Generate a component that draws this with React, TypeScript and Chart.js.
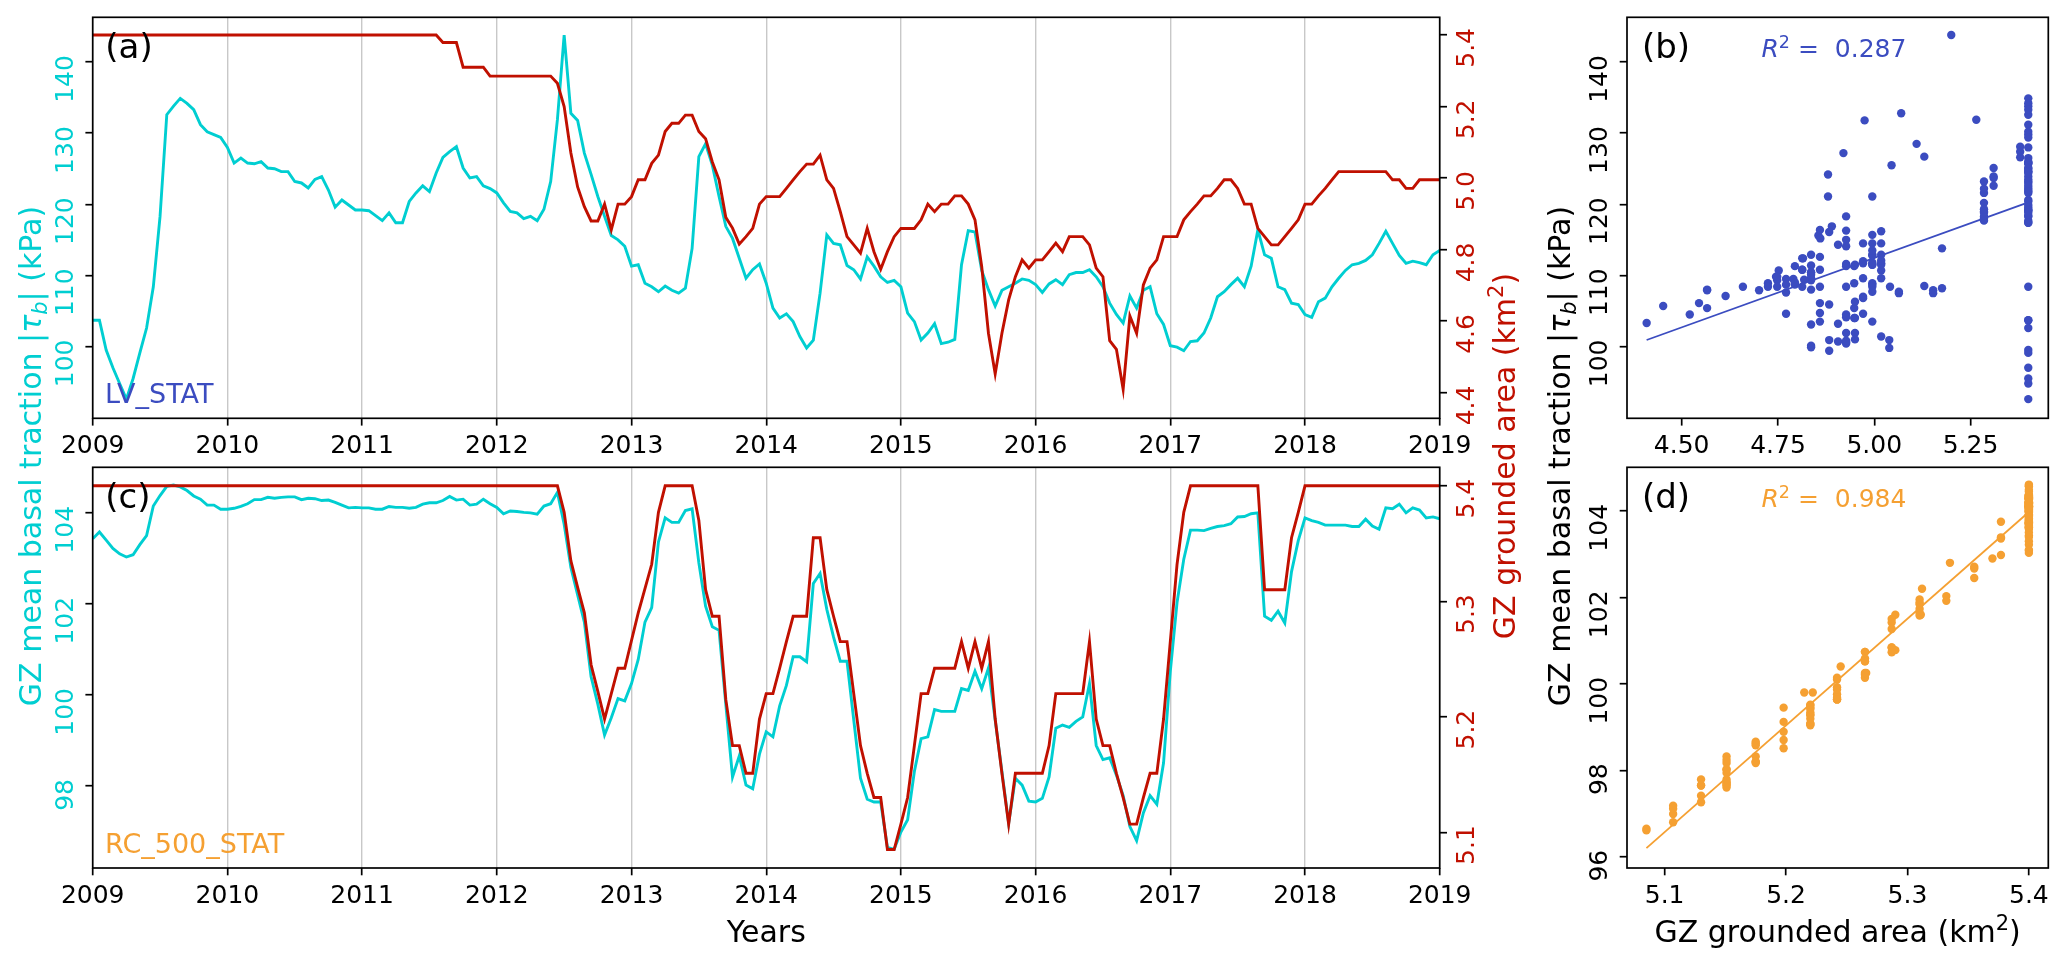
import React, { useEffect, useRef } from 'react';
import { Chart, registerables } from 'chart.js';

Chart.register(...registerables);

const FIG_W = 2067;
const FIG_H = 970;
const FONT = "'DejaVu Sans', 'Liberation Sans', sans-serif";

const CYAN = '#00CED1';
const RED = '#C01000';
const BLUE = '#3B4CC0';
const ORANGE = '#F5A032';
const GRID = '#c8c8c8';

// ---------- data ----------
// time axis: 20 samples per year, 2009.00 .. 2019.00
const timeYears: number[] = Array.from({ length: 201 }, (_, i) => +(2009 + i * 0.05).toFixed(2));

// LV_STAT : GZ mean basal traction (kPa)
const tauLV: number[] = [
  103.7, 103.7, 99.5, 97.0, 94.8, 92.6, 95.5, 99.1, 102.6, 108.4, 118.3, 132.6, 133.8, 134.9, 134.2, 133.3, 131.2, 130.2, 129.8, 129.4,
  128.0, 125.8, 126.5, 125.8, 125.7, 126.0, 125.1, 125.0, 124.6, 124.6, 123.2, 123.0, 122.3, 123.5, 123.9, 122.0, 119.6, 120.6, 119.9, 119.2,
  119.2, 119.1, 118.4, 117.7, 118.8, 117.4, 117.4, 120.4, 121.6, 122.6, 121.8, 124.4, 126.6, 127.4, 128.1, 125.1, 123.7, 123.9, 122.6, 122.2,
  121.6, 120.2, 119.0, 118.8, 118.0, 118.3, 117.7, 119.3, 123.2, 131.9, 143.8, 132.8, 131.8, 127.2, 124.2, 121.1, 118.3, 115.6, 115.0, 114.1,
  111.3, 111.5, 108.9, 108.4, 107.7, 108.5, 107.9, 107.5, 108.2, 113.8, 126.7, 128.5, 125.5, 121.1, 116.9, 115.2, 112.4, 109.6, 110.8, 111.6,
  108.9, 105.4, 104.0, 104.6, 103.5, 101.4, 99.8, 100.9, 107.5, 115.7, 114.5, 114.3, 111.4, 110.8, 109.5, 112.6, 111.3, 109.8, 109.0, 109.3,
  108.4, 104.7, 103.5, 100.9, 101.9, 103.2, 100.4, 100.6, 101.0, 111.5, 116.3, 116.1, 110.7, 108.0, 105.7, 107.9, 108.4, 108.9, 109.5, 109.3,
  108.7, 107.6, 108.8, 109.4, 108.7, 110.1, 110.4, 110.4, 110.8, 109.8, 108.4, 106.1, 104.5, 103.3, 107.1, 105.4, 107.9, 108.4, 104.6, 103.1,
  100.1, 99.9, 99.4, 100.7, 100.8, 101.9, 104.0, 107.0, 107.7, 108.7, 109.6, 108.4, 111.3, 116.4, 112.9, 112.4, 108.4, 108.0, 106.1, 105.9,
  104.5, 104.1, 106.3, 106.8, 108.4, 109.6, 110.7, 111.5, 111.7, 112.1, 112.9, 114.5, 116.2, 114.5, 112.8, 111.7, 112.0, 111.8, 111.5, 112.9,
  113.5,
];

// LV_STAT : GZ grounded area (km2)
const areaLV: number[] = [
  5.4, 5.4, 5.4, 5.4, 5.4, 5.4, 5.4, 5.4, 5.4, 5.4, 5.4, 5.4, 5.4, 5.4, 5.4, 5.4, 5.4, 5.4, 5.4, 5.4,
  5.4, 5.4, 5.4, 5.4, 5.4, 5.4, 5.4, 5.4, 5.4, 5.4, 5.4, 5.4, 5.4, 5.4, 5.4, 5.4, 5.4, 5.4, 5.4, 5.4,
  5.4, 5.4, 5.4, 5.4, 5.4, 5.4, 5.4, 5.4, 5.4, 5.4, 5.4, 5.4, 5.379, 5.379, 5.379, 5.31, 5.31, 5.31, 5.31, 5.285,
  5.285, 5.285, 5.285, 5.285, 5.285, 5.285, 5.285, 5.285, 5.285, 5.265, 5.2, 5.07, 4.975, 4.92, 4.88, 4.88, 4.927, 4.855, 4.927, 4.927,
  4.948, 4.995, 4.995, 5.041, 5.064, 5.13, 5.153, 5.153, 5.176, 5.176, 5.13, 5.11, 5.045, 4.995, 4.89, 4.86, 4.815, 4.836, 4.859, 4.927,
  4.948, 4.948, 4.948, 4.971, 4.995, 5.018, 5.039, 5.039, 5.064, 4.995, 4.971, 4.906, 4.836, 4.813, 4.79, 4.859, 4.794, 4.745, 4.794, 4.836,
  4.859, 4.859, 4.859, 4.883, 4.927, 4.906, 4.927, 4.927, 4.95, 4.95, 4.927, 4.883, 4.752, 4.566, 4.452, 4.566, 4.659, 4.724, 4.771, 4.748,
  4.771, 4.771, 4.794, 4.818, 4.794, 4.836, 4.836, 4.836, 4.813, 4.748, 4.724, 4.545, 4.521, 4.409, 4.614, 4.566, 4.701, 4.748, 4.771, 4.836,
  4.836, 4.836, 4.883, 4.906, 4.927, 4.95, 4.95, 4.971, 4.995, 4.995, 4.971, 4.927, 4.927, 4.859, 4.836, 4.813, 4.813, 4.836, 4.859, 4.883,
  4.927, 4.927, 4.95, 4.971, 4.995, 5.018, 5.018, 5.018, 5.018, 5.018, 5.018, 5.018, 5.018, 4.995, 4.995, 4.971, 4.971, 4.995, 4.995, 4.995,
  4.995,
];

// RC_500_STAT : GZ mean basal traction (kPa)
const tauRC: number[] = [
  103.43, 103.58, 103.4, 103.22, 103.1, 103.03, 103.08, 103.3, 103.5, 104.15, 104.38, 104.58, 104.61, 104.57, 104.49, 104.37, 104.3, 104.17, 104.17, 104.08,
  104.08, 104.1, 104.14, 104.2, 104.29, 104.29, 104.34, 104.32, 104.34, 104.35, 104.35, 104.29, 104.32, 104.31, 104.27, 104.28, 104.23, 104.17, 104.11, 104.12,
  104.11, 104.11, 104.08, 104.08, 104.14, 104.12, 104.12, 104.1, 104.12, 104.19, 104.22, 104.22, 104.27, 104.36, 104.28, 104.3, 104.17, 104.19, 104.3, 104.2,
  104.12, 103.98, 104.04, 104.03, 104.01, 104.0, 103.97, 104.15, 104.2, 104.45, 103.75, 102.8, 102.2, 101.6, 100.4, 99.8, 99.12, 99.5, 99.92, 99.87,
  100.25, 100.78, 101.6, 101.92, 103.36, 103.89, 103.79, 103.79, 104.05, 104.09, 102.9, 101.95, 101.5, 101.42, 99.8, 98.2, 98.66, 98.02, 97.94, 98.7,
  99.19, 99.08, 99.76, 100.21, 100.84, 100.84, 100.73, 102.45, 102.67, 101.88, 101.27, 100.74, 100.74, 99.45, 98.17, 97.71, 97.65, 97.65, 96.65, 96.61,
  96.99, 97.26, 98.32, 99.04, 99.08, 99.68, 99.64, 99.64, 99.64, 100.14, 100.1, 100.52, 100.14, 100.59, 99.45, 98.32, 97.18, 98.17, 98.02, 97.67,
  97.65, 97.73, 98.2, 99.27, 99.34, 99.29, 99.42, 99.52, 100.25, 98.89, 98.58, 98.62, 98.24, 97.79, 97.11, 96.8, 97.41, 97.79, 97.6, 98.51,
  100.52, 102.03, 102.98, 103.62, 103.62, 103.61, 103.66, 103.7, 103.72, 103.76, 103.91, 103.92, 103.98, 104.0, 101.73, 101.64, 101.84, 101.58, 102.71, 103.39,
  103.89, 103.83, 103.79, 103.73, 103.73, 103.73, 103.73, 103.7, 103.7, 103.86, 103.71, 103.64, 104.11, 104.09, 104.19, 104.0, 104.11, 104.06, 103.89, 103.91,
  103.87,
];

// RC_500_STAT : GZ grounded area (km2)
const areaRC: number[] = [
  5.4, 5.4, 5.4, 5.4, 5.4, 5.4, 5.4, 5.4, 5.4, 5.4, 5.4, 5.4, 5.4, 5.4, 5.4, 5.4, 5.4, 5.4, 5.4, 5.4,
  5.4, 5.4, 5.4, 5.4, 5.4, 5.4, 5.4, 5.4, 5.4, 5.4, 5.4, 5.4, 5.4, 5.4, 5.4, 5.4, 5.4, 5.4, 5.4, 5.4,
  5.4, 5.4, 5.4, 5.4, 5.4, 5.4, 5.4, 5.4, 5.4, 5.4, 5.4, 5.4, 5.4, 5.4, 5.4, 5.4, 5.4, 5.4, 5.4, 5.4,
  5.4, 5.4, 5.4, 5.4, 5.4, 5.4, 5.4, 5.4, 5.4, 5.4, 5.377, 5.335, 5.312, 5.29, 5.245, 5.222, 5.198, 5.22, 5.242, 5.242,
  5.266, 5.29, 5.311, 5.332, 5.377, 5.4, 5.4, 5.4, 5.4, 5.4, 5.37, 5.31, 5.287, 5.287, 5.215, 5.175, 5.175, 5.151, 5.151, 5.198,
  5.22, 5.22, 5.242, 5.265, 5.287, 5.287, 5.287, 5.355, 5.355, 5.31, 5.287, 5.265, 5.265, 5.22, 5.175, 5.151, 5.13, 5.13, 5.085, 5.085,
  5.107, 5.13, 5.175, 5.22, 5.22, 5.242, 5.242, 5.242, 5.242, 5.265, 5.242, 5.265, 5.242, 5.265, 5.198, 5.151, 5.107, 5.151, 5.151, 5.151,
  5.151, 5.151, 5.175, 5.22, 5.22, 5.22, 5.22, 5.22, 5.265, 5.198, 5.175, 5.175, 5.151, 5.13, 5.107, 5.107, 5.13, 5.151, 5.151, 5.198,
  5.265, 5.332, 5.377, 5.4, 5.4, 5.4, 5.4, 5.4, 5.4, 5.4, 5.4, 5.4, 5.4, 5.4, 5.31, 5.31, 5.31, 5.31, 5.355, 5.377,
  5.4, 5.4, 5.4, 5.4, 5.4, 5.4, 5.4, 5.4, 5.4, 5.4, 5.4, 5.4, 5.4, 5.4, 5.4, 5.4, 5.4, 5.4, 5.4, 5.4,
  5.4,
];

// tick values
const yearTicks = [2009, 2010, 2011, 2012, 2013, 2014, 2015, 2016, 2017, 2018, 2019];
const tauTicksA = [100, 110, 120, 130, 140];
const areaTicksA = [4.4, 4.6, 4.8, 5.0, 5.2, 5.4];
const tauTicksC = [98, 100, 102, 104];
const areaTicksC = [5.1, 5.2, 5.3, 5.4];
const areaTicksB = [4.5, 4.75, 5.0, 5.25];
const tauTicksB = [100, 110, 120, 130, 140];
const areaTicksD = [5.1, 5.2, 5.3, 5.4];
const tauTicksD = [96, 98, 100, 102, 104];

const r2LV = '0.287';
const r2RC = '0.984';

// ---------- layout ----------
const L1 = 92.7, R1 = 1439.7, L2 = 1627, R2 = 2048.3;
const T1 = 17.3, B1 = 418.3, T2 = 467.3, B2 = 868;

type Seg = { t: string; it?: boolean; s?: number; dy?: number };

function segFont(size: number, g: Seg) {
  return `${g.it ? 'italic ' : ''}${(size * (g.s ?? 1)).toFixed(2)}px ${FONT}`;
}

function drawRich(ctx: CanvasRenderingContext2D, segs: Seg[], x: number, y: number, size: number, color: string, rot: boolean, align: 'left' | 'center') {
  ctx.save();
  ctx.translate(x, y);
  if (rot) ctx.rotate(-Math.PI / 2);
  ctx.fillStyle = color;
  ctx.textAlign = 'left';
  ctx.textBaseline = 'alphabetic';
  let w = 0;
  for (const g of segs) { ctx.font = segFont(size, g); w += ctx.measureText(g.t).width; }
  let cx = align === 'center' ? -w / 2 : 0;
  for (const g of segs) {
    ctx.font = segFont(size, g);
    ctx.fillText(g.t, cx, (g.dy ?? 0) * size);
    cx += ctx.measureText(g.t).width;
  }
  ctx.restore();
}

const tauTitle: Seg[] = [
  { t: 'GZ mean basal traction |' },
  { t: 'τ', it: true },
  { t: 'b', it: true, s: 0.7, dy: 0.2 },
  { t: '| (kPa)' },
];
const areaTitle: Seg[] = [
  { t: 'GZ grounded area (km' },
  { t: '2', s: 0.7, dy: -0.4 },
  { t: ')' },
];
function r2Segs(v: string): Seg[] {
  return [{ t: 'R', it: true }, { t: '2', s: 0.7, dy: -0.38 }, { t: ' = ' }, { t: ' ' + v }];
}

type LabelSpec = { id: string; side: 'bottom' | 'left' | 'right'; fmt: (v: number) => string; color: string };

function decorPlugin(specs: LabelSpec[], extra: (ctx: CanvasRenderingContext2D) => void) {
  return {
    id: 'figureDecor',
    afterDraw(chart: any) {
      const ctx: CanvasRenderingContext2D = chart.ctx;
      const a = chart.chartArea;
      ctx.save();
      ctx.strokeStyle = '#000';
      ctx.lineWidth = 1.7;
      ctx.strokeRect(a.left, a.top, a.right - a.left, a.bottom - a.top);
      ctx.font = `25px ${FONT}`;
      for (const sp of specs) {
        const sc = chart.scales[sp.id];
        ctx.fillStyle = sp.color;
        for (const t of sc.ticks) {
          const p = sc.getPixelForValue(t.value);
          const txt = sp.fmt(t.value);
          if (sp.side === 'bottom') {
            ctx.textAlign = 'center';
            ctx.textBaseline = 'alphabetic';
            ctx.fillText(txt, p, a.bottom + 35);
          } else {
            const bx = sp.side === 'left' ? a.left - 20 : a.right + 34.5;
            ctx.save();
            ctx.translate(bx, p - 7);
            ctx.rotate(-Math.PI / 2);
            ctx.textAlign = 'right';
            ctx.textBaseline = 'alphabetic';
            ctx.fillText(txt, 0, 0);
            ctx.restore();
          }
        }
      }
      extra(ctx);
      ctx.restore();
    },
  };
}

function scaleCfg(position: string, min: number, max: number, ticks: number[], grid: boolean) {
  return {
    type: 'linear',
    position,
    min,
    max,
    afterBuildTicks: (s: any) => { s.ticks = ticks.map((v) => ({ value: v })); },
    afterFit: (s: any) => {
      if (position === 'bottom') s.height = 0; else s.width = 0;
      s.paddingLeft = 0; s.paddingRight = 0; s.paddingTop = 0; s.paddingBottom = 0;
    },
    ticks: { display: false },
    border: { display: false },
    grid: {
      drawOnChartArea: grid,
      color: GRID,
      lineWidth: 1.4,
      drawTicks: true,
      tickLength: 7.3,
      tickWidth: 1.7,
      tickColor: '#000',
    },
  };
}

function baseOpts(l: number, t: number, r: number, b: number, scales: any) {
  return {
    animation: false,
    responsive: false,
    maintainAspectRatio: false,
    devicePixelRatio: 1,
    events: [],
    layout: { padding: { left: l, top: t, right: FIG_W - r, bottom: FIG_H - b } },
    plugins: { legend: { display: false }, tooltip: { enabled: false } },
    scales,
  };
}

function series(vals: number[]) {
  return timeYears.map((x, i) => ({ x, y: vals[i] }));
}
function pairs(xs: number[], ys: number[]) {
  return xs.map((x, i) => ({ x, y: ys[i] }));
}
function fitLine(xs: number[], ys: number[]) {
  const n = xs.length;
  const mx = xs.reduce((s, v) => s + v, 0) / n;
  const my = ys.reduce((s, v) => s + v, 0) / n;
  let sxy = 0, sxx = 0;
  for (let i = 0; i < n; i++) { sxy += (xs[i] - mx) * (ys[i] - my); sxx += (xs[i] - mx) ** 2; }
  const slope = sxy / sxx;
  const icpt = my - slope * mx;
  const x0 = Math.min(...xs), x1 = Math.max(...xs);
  return [{ x: x0, y: icpt + slope * x0 }, { x: x1, y: icpt + slope * x1 }];
}

const f0 = (v: number) => v.toFixed(0);
const f1 = (v: number) => v.toFixed(1);
const f2 = (v: number) => v.toFixed(2);

function lineDs(vals: number[], axis: string, color: string) {
  return { data: series(vals), yAxisID: axis, borderColor: color, borderWidth: 2.9, pointRadius: 0, tension: 0, fill: false };
}

export default function App() {
  const ra = useRef<HTMLCanvasElement>(null);
  const rb = useRef<HTMLCanvasElement>(null);
  const rc = useRef<HTMLCanvasElement>(null);
  const rd = useRef<HTMLCanvasElement>(null);

  useEffect(() => {
    const charts: Chart[] = [];

    // (a)
    charts.push(new Chart(ra.current as HTMLCanvasElement, {
      type: 'line',
      data: { datasets: [lineDs(areaLV, 'yR', RED), lineDs(tauLV, 'yL', CYAN)] as any },
      options: baseOpts(L1, T1, R1, B1, {
        x: scaleCfg('bottom', 2009, 2019, yearTicks, true),
        yL: scaleCfg('left', 89.9, 146.3, tauTicksA, false),
        yR: scaleCfg('right', 4.328, 5.4495, areaTicksA, false),
      }) as any,
      plugins: [decorPlugin([
        { id: 'x', side: 'bottom', fmt: f0, color: '#000' },
        { id: 'yL', side: 'left', fmt: f0, color: CYAN },
        { id: 'yR', side: 'right', fmt: f1, color: RED },
      ], (ctx) => {
        drawRich(ctx, [{ t: '(a)' }], 105.3, 57.5, 34, '#000', false, 'left');
        drawRich(ctx, [{ t: 'LV_STAT' }], 105, 403, 27, BLUE, false, 'left');
        drawRich(ctx, tauTitle, 41, 456, 30, CYAN, true, 'center');
        drawRich(ctx, areaTitle, 1515, 456, 30, RED, true, 'center');
      })],
    } as any));

    // (c)
    charts.push(new Chart(rc.current as HTMLCanvasElement, {
      type: 'line',
      data: { datasets: [lineDs(areaRC, 'yR', RED), lineDs(tauRC, 'yL', CYAN)] as any },
      options: baseOpts(L1, T2, R1, B2, {
        x: scaleCfg('bottom', 2009, 2019, yearTicks, true),
        yL: scaleCfg('left', 96.2, 105.0, tauTicksC, false),
        yR: scaleCfg('right', 5.069, 5.416, areaTicksC, false),
      }) as any,
      plugins: [decorPlugin([
        { id: 'x', side: 'bottom', fmt: f0, color: '#000' },
        { id: 'yL', side: 'left', fmt: f0, color: CYAN },
        { id: 'yR', side: 'right', fmt: f1, color: RED },
      ], (ctx) => {
        drawRich(ctx, [{ t: '(c)' }], 105.3, 507.5, 34, '#000', false, 'left');
        drawRich(ctx, [{ t: 'RC_500_STAT' }], 105, 853, 27, ORANGE, false, 'left');
        drawRich(ctx, [{ t: 'Years' }], (L1 + R1) / 2, 942, 30, '#000', false, 'center');
      })],
    } as any));

    // (b)
    charts.push(new Chart(rb.current as HTMLCanvasElement, {
      type: 'scatter',
      data: {
        datasets: [
          { type: 'line', data: fitLine(areaLV, tauLV), borderColor: BLUE, borderWidth: 1.8, pointRadius: 0, showLine: true, fill: false },
          { data: pairs(areaLV, tauLV), backgroundColor: BLUE, borderWidth: 0, pointBorderWidth: 0, pointRadius: 4.2 },
        ] as any,
      },
      options: baseOpts(L2, T1, R2, B1, {
        x: scaleCfg('bottom', 4.358, 5.452, areaTicksB, false),
        y: scaleCfg('left', 89.9, 146.3, tauTicksB, false),
      }) as any,
      plugins: [decorPlugin([
        { id: 'x', side: 'bottom', fmt: f2, color: '#000' },
        { id: 'y', side: 'left', fmt: f0, color: '#000' },
      ], (ctx) => {
        drawRich(ctx, [{ t: '(b)' }], 1642, 57.5, 34, '#000', false, 'left');
        drawRich(ctx, r2Segs(r2LV), 1761.5, 57.3, 25, BLUE, false, 'left');
        drawRich(ctx, tauTitle, 1569.5, 456, 30, '#000', true, 'center');
      })],
    } as any));

    // (d)
    charts.push(new Chart(rd.current as HTMLCanvasElement, {
      type: 'scatter',
      data: {
        datasets: [
          { type: 'line', data: fitLine(areaRC, tauRC), borderColor: ORANGE, borderWidth: 1.8, pointRadius: 0, showLine: true, fill: false },
          { data: pairs(areaRC, tauRC), backgroundColor: ORANGE, borderWidth: 0, pointBorderWidth: 0, pointRadius: 4.2 },
        ] as any,
      },
      options: baseOpts(L2, T2, R2, B2, {
        x: scaleCfg('bottom', 5.069, 5.416, areaTicksD, false),
        y: scaleCfg('left', 95.74, 105.01, tauTicksD, false),
      }) as any,
      plugins: [decorPlugin([
        { id: 'x', side: 'bottom', fmt: f1, color: '#000' },
        { id: 'y', side: 'left', fmt: f0, color: '#000' },
      ], (ctx) => {
        drawRich(ctx, [{ t: '(d)' }], 1642, 507.5, 34, '#000', false, 'left');
        drawRich(ctx, r2Segs(r2RC), 1761.5, 507.3, 25, ORANGE, false, 'left');
        drawRich(ctx, areaTitle, (L2 + R2) / 2, 942, 30, '#000', false, 'center');
      })],
    } as any));

    return () => { charts.forEach((c) => c.destroy()); };
  }, []);

  const cs: React.CSSProperties = { position: 'absolute', left: 0, top: 0, width: FIG_W, height: FIG_H };
  return (
    <div style={{ position: 'absolute', left: 0, top: 0, width: FIG_W, height: FIG_H, background: '#ffffff', overflow: 'hidden' }}>
      <canvas ref={ra} width={FIG_W} height={FIG_H} style={cs} />
      <canvas ref={rc} width={FIG_W} height={FIG_H} style={cs} />
      <canvas ref={rb} width={FIG_W} height={FIG_H} style={cs} />
      <canvas ref={rd} width={FIG_W} height={FIG_H} style={cs} />
    </div>
  );
}
